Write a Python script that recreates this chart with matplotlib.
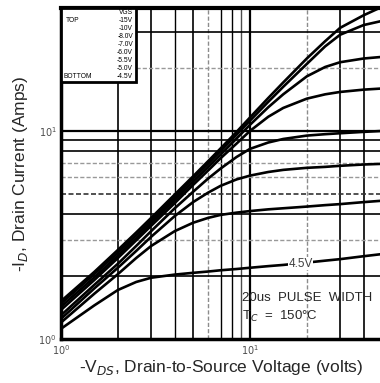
import numpy as np
import matplotlib.pyplot as plt
from matplotlib.patches import Rectangle

plt.rcParams['font.family'] = ['Liberation Sans', 'DejaVu Sans']

# -VDS (volts) sample points along every curve
vds = [1, 1.5, 2, 2.5, 3, 4, 5, 6, 7, 8.5, 10, 12.5, 15, 20, 25, 30, 40, 50]

# -ID (amps) for each gate voltage, top curve first
id_15v = [1.52, 2.1, 2.68, 3.25, 3.82, 4.95, 6.05, 7.15, 8.25, 9.9, 11.6, 14.4, 17.1, 22.3, 27.0, 31.3, 36.0, 39.5]
id_10v = [1.48, 2.05, 2.6, 3.15, 3.7, 4.8, 5.9, 6.95, 8.0, 9.6, 11.2, 13.8, 16.3, 21.0, 25.5, 29.0, 32.3, 33.8]
id_8v = [1.43, 1.98, 2.52, 3.05, 3.6, 4.65, 5.7, 6.7, 7.7, 9.2, 10.7, 13.0, 15.0, 18.3, 20.3, 21.4, 22.3, 22.7]
id_7v = [1.38, 1.92, 2.45, 2.98, 3.5, 4.5, 5.5, 6.45, 7.4, 8.7, 10.0, 11.7, 12.9, 14.3, 15.0, 15.4, 15.8, 16.0]
id_6v = [1.3, 1.82, 2.3, 2.8, 3.3, 4.25, 5.1, 5.9, 6.6, 7.5, 8.2, 8.8, 9.15, 9.5, 9.65, 9.75, 9.9, 10.0]
id_55v = [1.25, 1.75, 2.2, 2.65, 3.1, 3.9, 4.55, 5.05, 5.45, 5.85, 6.1, 6.35, 6.5, 6.65, 6.72, 6.8, 6.9, 6.95]
id_5v = [1.2, 1.65, 2.05, 2.45, 2.8, 3.3, 3.62, 3.82, 3.95, 4.05, 4.12, 4.2, 4.25, 4.33, 4.4, 4.45, 4.55, 4.62]
id_45v = [1.12, 1.45, 1.72, 1.88, 1.97, 2.04, 2.08, 2.11, 2.14, 2.17, 2.2, 2.24, 2.27, 2.33, 2.38, 2.42, 2.5, 2.56]

curves = [id_15v, id_10v, id_8v, id_7v, id_6v, id_55v, id_5v, id_45v]
vgs_labels = ['-15V', '-10V', '-8.0V', '-7.0V', '-6.0V', '-5.5V', '-5.0V', '-4.5V']

fig = plt.figure(figsize=(3.8, 3.83), dpi=100)
ax = fig.add_axes([61/380, 44/383, 321/380, 331/383])
ax.set_xscale('log')
ax.set_yscale('log')
ax.set_xlim(1, 50)
ax.set_ylim(1, 39)

# grid lines, each one styled on its own like the printed sheet
xgrid = {2: ('k', '-', 1.2), 3: ('k', '-', 1.2), 4: ('k', '-', 1.0), 5: ('k', '-', 1.2),
         6: ('0.55', '--', 1.0), 7: ('k', '-', 1.0), 8: ('k', '-', 1.0), 9: ('0.3', '-', 1.0),
         10: ('k', '-', 1.6), 20: ('0.55', '--', 1.0), 30: ('k', '-', 1.2), 40: ('k', '-', 1.2)}
ygrid = {2: ('k', '-', 1.2), 3: ('0.6', '--', 1.0), 4: ('k', '-', 1.2), 5: ('0.2', '--', 1.2),
         6: ('0.6', '--', 1.0), 7: ('0.6', '--', 1.0), 8: ('k', '-', 1.2), 9: ('k', '-', 1.2),
         10: ('k', '-', 1.6), 20: ('0.6', '--', 1.0), 30: ('k', '-', 1.2)}
for pos, (c, ls, lw) in xgrid.items():
    ax.axvline(pos, color=c, ls=ls, lw=lw, dashes=(3, 1.5) if ls == '--' else (None, None), zorder=1)
for pos, (c, ls, lw) in ygrid.items():
    ax.axhline(pos, color=c, ls=ls, lw=lw, dashes=(3, 1.5) if ls == '--' else (None, None), zorder=1)

for cur in curves:
    ax.plot(vds, cur, color='black', lw=1.9, zorder=3, solid_capstyle='round')

ax.text(18.5, 2.3, '4.5V', fontsize=8.5, ha='center', va='center', color='0.25',
        bbox=dict(facecolor='white', edgecolor='none', pad=0.5), zorder=4)

ax.text(0.565, 0.115, '20us  PULSE  WIDTH', transform=ax.transAxes, fontsize=9.5,
        color='0.15', zorder=4)
ax.text(0.565, 0.058, 'T$_C$  =  150°C', transform=ax.transAxes, fontsize=9.5,
        color='0.15', zorder=4)

# legend box in the top left corner
box_w = 75/321
box_h = 74/331
ax.add_patch(Rectangle((0, 1 - box_h), box_w, box_h, transform=ax.transAxes,
                       facecolor='white', edgecolor='black', lw=2, zorder=5))
row_y = [13, 20, 28, 36, 44, 52, 60, 68, 77]
ax.text((133-61)/321, 1 - (row_y[0]-8)/331, 'VGS', transform=ax.transAxes,
        fontsize=4.8, ha='right', va='center', zorder=6)
for yy, lab in zip(row_y[1:], vgs_labels):
    ax.text((133-61)/321, 1 - (yy-8)/331, lab, transform=ax.transAxes,
            fontsize=4.8, ha='right', va='center', zorder=6)
ax.text((66-61)/321, 1 - (row_y[1]-8)/331, 'TOP', transform=ax.transAxes,
        fontsize=4.8, ha='left', va='center', zorder=6)
ax.text((63-61)/321, 1 - (row_y[-1]-8)/331, 'BOTTOM', transform=ax.transAxes,
        fontsize=4.8, ha='left', va='center', zorder=6)

ax.set_xticks([1, 10])
ax.set_xticklabels(['$10^0$', '$10^1$'])
ax.set_yticks([1, 10])
ax.set_yticklabels(['$10^0$', '$10^1$'])
ax.minorticks_off()
ax.tick_params(length=0, labelsize=7, labelcolor='0.3', pad=3)

for side in ['left', 'bottom']:
    ax.spines[side].set_linewidth(2.5)
ax.spines['top'].set_linewidth(3)
ax.spines['right'].set_visible(False)

ax.set_xlabel('-V$_{DS}$, Drain-to-Source Voltage (volts)', fontsize=12.5, color='0.15', labelpad=1)
ax.set_ylabel('-I$_D$, Drain Current (Amps)', fontsize=12.5, color='0.15', labelpad=6)

fig.savefig('out.png', dpi=100)
